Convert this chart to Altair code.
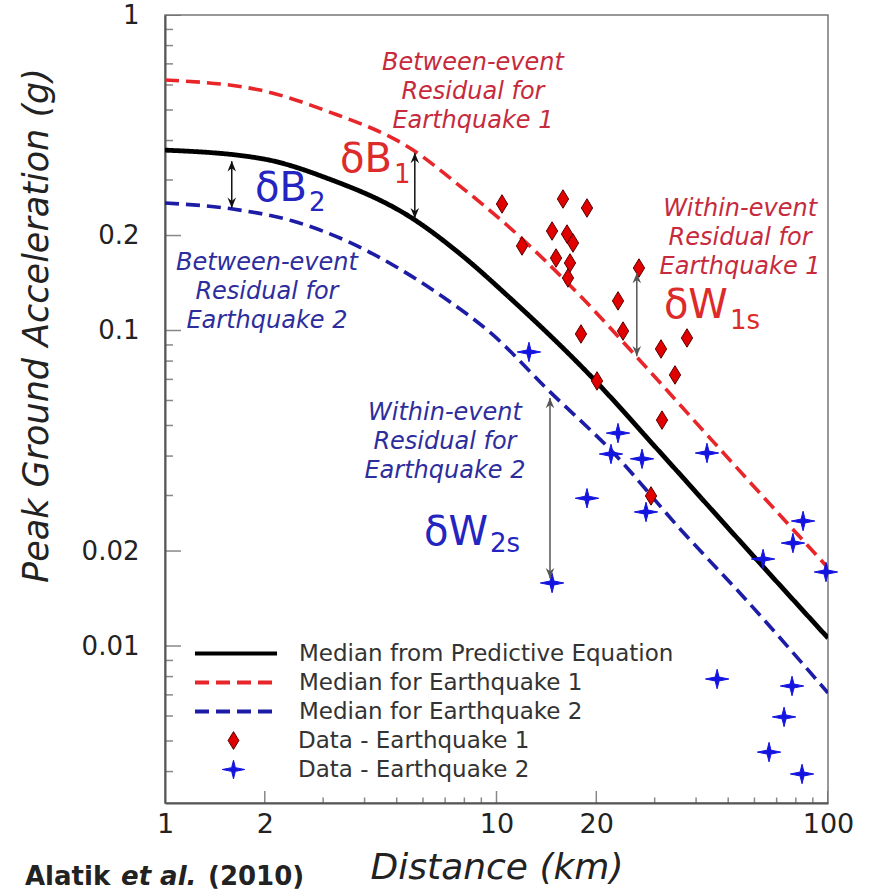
import altair as alt
import pandas as pd

# ---------------- data ----------------
# median curves (distance km, PGA g)
dist_median = [1.0, 1.975, 3.08, 5.60, 7.76, 10.98, 19.5, 31.1, 57.0, 100.0]
pga_median = [0.373, 0.350, 0.304, 0.226, 0.175, 0.1268, 0.0707, 0.0412, 0.0203, 0.0106]
dist_eq1 = [1.0, 1.935, 3.08, 5.60, 7.76, 10.74, 17.9, 26.5, 44.9, 100.0]
pga_eq1 = [0.622, 0.578, 0.496, 0.3733, 0.287, 0.216, 0.1287, 0.0824, 0.0446, 0.0177]
dist_eq2 = [1.0, 1.60, 2.43, 3.54, 4.87, 6.90, 9.76, 14.2, 22.4, 35.8, 57.0, 100.0]
pga_eq2 = [0.2535, 0.2427, 0.2223, 0.192, 0.1613, 0.1277, 0.0968, 0.0653, 0.0412, 0.0235, 0.0139, 0.0071]

# recordings
eq1_dist = [10.39, 15.87, 18.75, 14.71, 16.32, 17.01, 11.94, 15.12, 16.66, 16.43,
            26.9, 23.26, 17.98, 24.08, 37.55, 31.35, 34.55, 20.1, 31.57, 29.25]
eq1_pga = [0.2518, 0.2611, 0.2445, 0.2067, 0.2022, 0.1894, 0.1853, 0.1697, 0.1637, 0.1467,
           0.1578, 0.1241, 0.0975, 0.0996, 0.0947, 0.0874, 0.0723, 0.0692, 0.0520, 0.0299]
eq2_dist = [12.53, 23.26, 22.15, 27.48, 43.15, 18.75, 28.25, 14.71, 84.1, 78.4, 63.7,
            98.6, 46.3, 77.9, 73.7, 66.4, 83.5]
eq2_pga = [0.0855, 0.0473, 0.0406, 0.0392, 0.0409, 0.0294, 0.0266, 0.01584, 0.0249, 0.0212,
           0.01887, 0.01716, 0.00786, 0.00747, 0.00596, 0.00461, 0.00393]

# residual arrows
arrow_kind = ["between", "between", "within", "within"]
arrow_dist = [1.59, 5.67, 26.5, 14.5]
arrow_top = [0.344, 0.3654, 0.1521, 0.0611]
arrow_bottom = [0.2447, 0.2270, 0.0829, 0.0164]

# annotation blocks (position of the first line)
notes_text = ["Between-event\nResidual for\nEarthquake 1",
              "Within-event\nResidual for\nEarthquake 1",
              "Between-event\nResidual for\nEarthquake 2",
              "Within-event\nResidual for\nEarthquake 2"]
notes_eq = [1, 1, 2, 2]
notes_dist = [8.49, 54.3, 2.03, 6.99]
notes_pga = [0.7045, 0.2427, 0.1637, 0.0548]

# residual symbols (main glyphs + subscripts)
sym_main = ["δB", "δB", "δW", "δW"]
sym_sub = ["1", "2", "1s", "2s"]
sym_eq = [1, 2, 1, 2]
sym_dist = [4.84, 2.68, 49.9, 9.43]
sym_pga = [0.347, 0.281, 0.1196, 0.0228]
sub_pga = [0.311, 0.2536, 0.1072, 0.02105]

# axes
Y_MIN = 0.00318
y_labels = [1, 0.2, 0.1, 0.02, 0.01]
y_minor = [0.9, 0.8, 0.7, 0.6, 0.5, 0.4, 0.3, 0.09, 0.08, 0.07, 0.06, 0.05, 0.04, 0.03,
           0.009, 0.008, 0.007, 0.006, 0.005, 0.004]
x_labels = [1, 2, 10, 20, 100]
x_minor = [3, 4, 5, 6, 7, 8, 9, 30, 40, 50, 60, 70, 80, 90]

line_domain = ["Median from Predictive Equation", "Median for Earthquake 1", "Median for Earthquake 2"]
pt_domain = ["Data - Earthquake 1", "Data - Earthquake 2"]

# ---------------- styling ----------------
FONT = "DejaVu Sans"
RED_LINE = "#e8262a"
BLUE_LINE = "#1c1ca6"
RED_TXT = "#c62a3c"
BLUE_TXT = "#2d2d9d"
DIAMOND = "M0,-0.95L0.58,0L0,0.95L-0.58,0Z"
STAR = "M0,-1L0.2,-0.2L1.2,0L0.2,0.2L0,1L-0.2,0.2L-1.2,0L-0.2,-0.2Z"
HEAD_UP = "M0,-1L0.7,0.7L0,0.15L-0.7,0.7Z"
HEAD_DOWN = "M0,1L0.7,-0.7L0,-0.15L-0.7,-0.7Z"

xscale = alt.Scale(type="log", domain=[1, 100], nice=False)
yscale = alt.Scale(type="log", domain=[Y_MIN, 1], nice=False)
xaxis = alt.Axis(title="Distance (km)", values=x_labels, format="~g", ticks=False, tickSize=0,
                 grid=False, labelFlush=False, labelOverlap=False, labelFont=FONT,
                 labelFontSize=27, labelColor="#222", labelPadding=8,
                 titleFont=FONT, titleFontSize=36, titleFontStyle="italic",
                 titleFontWeight="normal", titleColor="#222", titleY=64, titleBaseline="middle",
                 domainColor="#555", domainWidth=2)
yaxis = alt.Axis(title="Peak Ground Acceleration (g)", values=y_labels, format="~g", ticks=False,
                 tickSize=0, grid=False, labelFlush=False, labelOverlap=False, labelFont=FONT,
                 labelFontSize=26, labelColor="#222", labelPadding=26,
                 titleFont=FONT, titleFontSize=35, titleFontStyle="italic",
                 titleFontWeight="normal", titleColor="#222", titleAngle=270,
                 titleX=-129, titleY=310, titleBaseline="middle", titleAlign="center",
                 domainColor="#555", domainWidth=2)


def X():
    return alt.X("dist:Q", scale=xscale, axis=xaxis)


def Y():
    return alt.Y("pga:Q", scale=yscale, axis=yaxis)


line_legend = alt.Legend(title=None, orient="none", legendX=28, legendY=624, symbolSize=6724,
                         symbolStrokeWidth=4, symbolType="stroke", labelFont=FONT, labelFontSize=23,
                         labelColor="#333", labelOffset=20, clipHeight=29, rowPadding=0, padding=0,
                         labelLimit=700)
pt_legend = alt.Legend(title=None, orient="none", legendX=57, legendY=711, symbolSize=350,
                       symbolStrokeWidth=1, labelFont=FONT, labelFontSize=23, labelColor="#333",
                       labelOffset=53, clipHeight=29, rowPadding=0, padding=0, labelLimit=700)

color_enc = alt.Color("series:N", scale=alt.Scale(domain=line_domain, range=["#000000", RED_LINE, BLUE_LINE]),
                      legend=line_legend)
dash_enc = alt.StrokeDash("series:N", scale=alt.Scale(domain=line_domain, range=[[1, 0], [14, 7], [14, 7]]),
                          legend=line_legend)

# ---------------- data frames ----------------
curves = pd.concat([
    pd.DataFrame({"dist": dist_median, "pga": pga_median, "series": line_domain[0]}),
    pd.DataFrame({"dist": dist_eq1, "pga": pga_eq1, "series": line_domain[1]}),
    pd.DataFrame({"dist": dist_eq2, "pga": pga_eq2, "series": line_domain[2]}),
])
points = pd.concat([
    pd.DataFrame({"dist": eq1_dist, "pga": eq1_pga, "series": pt_domain[0]}),
    pd.DataFrame({"dist": eq2_dist, "pga": eq2_pga, "series": pt_domain[1]}),
])
arrows = pd.DataFrame({"dist": arrow_dist, "pga": arrow_top, "pga2": arrow_bottom, "kind": arrow_kind})
notes = pd.DataFrame({"dist": notes_dist, "pga": notes_pga, "text": notes_text, "quake": notes_eq})
syms = pd.DataFrame({"dist": sym_dist, "pga": sym_pga, "pga_sub": sub_pga, "main": sym_main,
                     "sub": sym_sub, "quake": sym_eq})

ytick_major = pd.DataFrame({"dist": [1.0] * len(y_labels), "pga": y_labels})
ytick_minor = pd.DataFrame({"dist": [1.0] * len(y_minor), "pga": y_minor})
xtick_major = pd.DataFrame({"dist": x_labels, "pga": [Y_MIN] * len(x_labels)})
xtick_minor = pd.DataFrame({"dist": x_minor, "pga": [Y_MIN] * len(x_minor)})

# ---------------- layers ----------------
layers = []
# inner tick marks
for df, size, orient in [(ytick_major, 32, "horizontal"), (ytick_minor, 16, "horizontal"),
                         (xtick_major, 24, "vertical"), (xtick_minor, 11, "vertical")]:
    layers.append(alt.Chart(df).mark_tick(orient=orient, size=size, thickness=1.5,
                                          color="#555", clip=True).encode(x=X(), y=Y()))

solid = alt.Chart(curves[curves["series"] == line_domain[0]]).mark_line(
    interpolate="monotone", strokeWidth=4.8, clip=True).encode(
    x=X(), y=Y(), color=color_enc, strokeDash=dash_enc)
dashed = alt.Chart(curves[curves["series"] != line_domain[0]]).mark_line(
    interpolate="monotone", strokeWidth=3.6, clip=True).encode(
    x=X(), y=Y(), color=color_enc, strokeDash=dash_enc)

pts = alt.Chart(points).mark_point(filled=True, size=380, opacity=1, strokeWidth=1).encode(
    x=X(), y=Y(),
    fill=alt.Fill("series:N", scale=alt.Scale(domain=pt_domain, range=["#e00000", "#1414e0"]), legend=pt_legend),
    shape=alt.Shape("series:N", scale=alt.Scale(domain=pt_domain, range=[DIAMOND, STAR]), legend=pt_legend),
    stroke=alt.Stroke("series:N", scale=alt.Scale(domain=pt_domain, range=["#5a0000", "#1414e0"]), legend=pt_legend),
)

arrow_layers = []
for kind, col in [("between", "#111111"), ("within", "#555555")]:
    sub = arrows[arrows["kind"] == kind]
    base = alt.Chart(sub)
    arrow_layers.append(base.mark_rule(color=col, strokeWidth=1.5).encode(
        x=X(), y=Y(), y2="pga2:Q"))
    arrow_layers.append(base.mark_point(shape=HEAD_UP, filled=True, size=150, color=col,
                                        opacity=1, yOffset=6).encode(x=X(), y=Y()))
    arrow_layers.append(base.mark_point(shape=HEAD_DOWN, filled=True, size=150, color=col,
                                        opacity=1, yOffset=-6).encode(x=X(), y=alt.Y("pga2:Q", scale=yscale, axis=yaxis)))

note_layers = []
for q, col in [(1, RED_TXT), (2, BLUE_TXT)]:
    note_layers.append(alt.Chart(notes[notes["quake"] == q]).mark_text(
        font=FONT, fontStyle="italic", fontSize=24, lineHeight=29, lineBreak="\n",
        align="center", baseline="middle", color=col).encode(x=X(), y=Y(), text="text:N"))

sym_layers = []
for q, col in [(1, "#dd2a2a"), (2, "#2424c0")]:
    base = alt.Chart(syms[syms["quake"] == q])
    sym_layers.append(base.mark_text(font=FONT, fontSize=40, align="right", baseline="middle",
                                     color=col).encode(x=X(), y=Y(), text="main:N"))
    sym_layers.append(base.mark_text(font=FONT, fontSize=26, align="left", baseline="middle",
                                     dx=2, color=col).encode(
        x=X(), y=alt.Y("pga_sub:Q", scale=yscale, axis=yaxis), text="sub:N"))

cite = pd.DataFrame({"t": ["Alatik", "et al.", "(2010)"]})
cite_layers = [
    alt.Chart(cite.iloc[[0]]).mark_text(font=FONT, fontSize=26, fontWeight="bold", align="left",
                                        baseline="middle", color="#222").encode(
        x=alt.value(-140), y=alt.value(862), text="t:N"),
    alt.Chart(cite.iloc[[1]]).mark_text(font=FONT, fontSize=26, fontWeight="bold", fontStyle="italic",
                                        align="left", baseline="middle", color="#222").encode(
        x=alt.value(-44), y=alt.value(862), text="t:N"),
    alt.Chart(cite.iloc[[2]]).mark_text(font=FONT, fontSize=26, fontWeight="bold", align="left",
                                        baseline="middle", color="#222").encode(
        x=alt.value(43), y=alt.value(862), text="t:N"),
]

chart = alt.layer(*layers, dashed, solid, pts, *arrow_layers, *note_layers, *sym_layers,
                  *cite_layers).properties(
    width=663, height=788,
    autosize=alt.AutoSizeParams(type="none"),
    padding={"left": 165, "top": 15, "right": 41, "bottom": 91},
    background="white",
).configure_view(stroke="#777777", strokeWidth=1.5).configure_axis(grid=False)

chart.save("out.html", embed_options={"renderer": "svg", "actions": False})
